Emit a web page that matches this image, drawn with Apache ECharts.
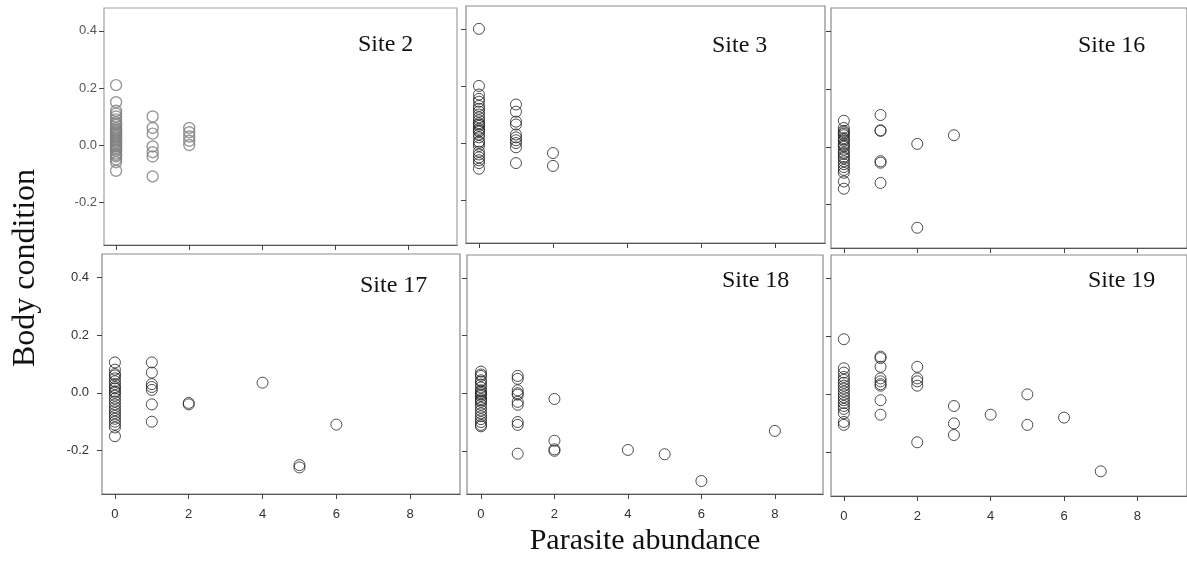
<!DOCTYPE html>
<html>
<head>
<meta charset="utf-8">
<script src="https://cdn.jsdelivr.net/npm/echarts@6/dist/echarts.min.js"></script>
<style>
    html, body { margin: 0; padding: 0; background: #fff; }
    #chart { width: 1187px; height: 566px; }
</style>
</head>
<body>
<div id="chart"></div>
<script>
// site names
var siteNames = ["Site 2", "Site 3", "Site 16", "Site 17", "Site 18", "Site 19"];

// parasite abundance levels and body condition values per site
var site2Abund = [0, 1, 2];
var site2Cond = [
    [0.21, 0.15, 0.12, 0.11, 0.10, 0.09, 0.08, 0.075, 0.07, 0.06, 0.055, 0.05, 0.045, 0.04, 0.035, 0.03, 0.025, 0.02, 0.015, 0.01, 0.005, 0.0, -0.005, -0.01, -0.015, -0.02, -0.03, -0.035, -0.04, -0.05, -0.06, -0.09],
    [0.10, 0.06, 0.04, -0.005, -0.025, -0.04, -0.11],
    [0.06, 0.045, 0.03, 0.015, 0.0]
];

var site3Abund = [0, 1, 2];
var site3Cond = [
    [0.40, 0.20, 0.17, 0.155, 0.145, 0.13, 0.12, 0.11, 0.10, 0.09, 0.08, 0.07, 0.065, 0.06, 0.05, 0.045, 0.04, 0.03, 0.02, 0.005, 0.0, -0.01, -0.03, -0.04, -0.05, -0.06, -0.07, -0.09],
    [0.135, 0.11, 0.075, 0.065, 0.03, 0.02, 0.01, 0.0, -0.015, -0.07],
    [-0.035, -0.08]
];

var site16Abund = [0, 1, 2, 3];
var site16Cond = [
    [0.09, 0.065, 0.055, 0.05, 0.045, 0.04, 0.03, 0.025, 0.02, 0.01, 0.005, 0.0, -0.01, -0.02, -0.025, -0.035, -0.04, -0.05, -0.06, -0.07, -0.08, -0.09, -0.12, -0.145],
    [0.11, 0.055, 0.057, -0.05, -0.055, -0.125],
    [0.01, -0.28],
    [0.04]
];

var site17Abund = [0, 1, 2, 4, 5, 6];
var site17Cond = [
    [0.105, 0.08, 0.065, 0.06, 0.05, 0.04, 0.03, 0.02, 0.015, 0.005, 0.0, -0.01, -0.02, -0.03, -0.04, -0.05, -0.06, -0.07, -0.08, -0.09, -0.1, -0.11, -0.12, -0.15],
    [0.105, 0.07, 0.03, 0.02, 0.01, -0.04, -0.1],
    [-0.035, -0.04],
    [0.035],
    [-0.25, -0.258],
    [-0.11]
];

var site18Abund = [0, 1, 2, 4, 5, 6, 8];
var site18Cond = [
    [0.075, 0.065, 0.06, 0.045, 0.04, 0.03, 0.02, 0.01, 0.005, 0.0, -0.005, -0.01, -0.02, -0.025, -0.03, -0.04, -0.05, -0.06, -0.07, -0.08, -0.09, -0.1, -0.11, -0.115],
    [0.06, 0.05, 0.01, 0.0, -0.005, -0.03, -0.04, -0.1, -0.11, -0.21],
    [-0.02, -0.165, -0.195, -0.2],
    [-0.197],
    [-0.212],
    [-0.305],
    [-0.131]
];

var site19Abund = [0, 1, 2, 3, 4, 5, 6, 7];
var site19Cond = [
    [0.19, 0.09, 0.075, 0.06, 0.05, 0.04, 0.03, 0.02, 0.01, 0.0, -0.01, -0.02, -0.03, -0.04, -0.05, -0.065, -0.095, -0.105],
    [0.13, 0.125, 0.095, 0.055, 0.045, 0.035, 0.03, -0.02, -0.07],
    [0.095, 0.055, 0.045, 0.03, -0.165],
    [-0.04, -0.1, -0.14],
    [-0.07],
    [0.0, -0.105],
    [-0.08],
    [-0.265]
];

// tick labels
var xTicks = [0, 2, 4, 6, 8];
var yTicks = [-0.2, 0.0, 0.2, 0.4];

var siteAbund = [site2Abund, site3Abund, site16Abund, site17Abund, site18Abund, site19Abund];
var siteCond = [site2Cond, site3Cond, site16Cond, site17Cond, site18Cond, site19Cond];

// panel boxes (px) and axis ranges
var panels = [
    {left: 104, top: 8, width: 353, height: 237, xMin: -0.33, xMax: 9.32, yLab: true, yMargin: 7, xLab: false, color: '#808080', box: '#a0a0a0', label: {x: 358, y: 46}},
    {left: 466, top: 6, width: 359, height: 237, xMin: -0.35, xMax: 9.35, yLab: false, yMargin: 8, xLab: false, color: '#222', box: '#8a8a8a', label: {x: 712, y: 47}},
    {left: 831, top: 8, width: 359, height: 240, xMin: -0.35, xMax: 9.35, yLab: false, yMargin: 8, xLab: false, color: '#222', box: '#8a8a8a', label: {x: 1078, y: 47}},
    {left: 102, top: 254, width: 358, height: 240, xMin: -0.35, xMax: 9.35, yLab: true, yMargin: 13, xLab: true, color: '#222', box: '#8a8a8a', label: {x: 360, y: 287}},
    {left: 467, top: 255, width: 356, height: 239, xMin: -0.38, xMax: 9.31, yLab: false, yMargin: 8, xLab: true, color: '#222', box: '#8a8a8a', label: {x: 722, y: 282}},
    {left: 831, top: 255, width: 359, height: 241, xMin: -0.35, xMax: 9.35, yLab: false, yMargin: 8, xLab: true, color: '#222', box: '#8a8a8a', label: {x: 1088, y: 282}}
];
var yMin = -0.35, yMax = 0.48;

function buildPoints(abund, cond) {
    var pts = [];
    abund.forEach(function (a, i) {
        cond[i].forEach(function (v) {
            pts.push([a, v]);
        });
    });
    return pts;
}

var grids = [], xAxes = [], yAxes = [], series = [], graphics = [];

panels.forEach(function (p, i) {
    grids.push({
        left: p.left, top: p.top, width: p.width, height: p.height,
        show: true, borderColor: p.box, borderWidth: 1.2, backgroundColor: 'transparent'
    });
    xAxes.push({
        type: 'value', gridIndex: i, min: p.xMin, max: p.xMax,
        splitLine: {show: false},
        axisLine: {show: true, onZero: false, lineStyle: {color: '#555', width: 1.2}},
        axisTick: {show: true, customValues: xTicks, length: 5, lineStyle: {color: '#444'}},
        axisLabel: {
            show: p.xLab, customValues: xTicks, margin: 14,
            fontFamily: 'Liberation Sans', fontSize: 13, color: '#333'
        }
    });
    yAxes.push({
        type: 'value', gridIndex: i, min: yMin, max: yMax,
        splitLine: {show: false},
        axisLine: {show: false, onZero: false},
        axisTick: {show: true, customValues: yTicks, length: 5, lineStyle: {color: '#444'}},
        axisLabel: {
            show: p.yLab, customValues: yTicks, margin: p.yMargin,
            fontFamily: 'Liberation Sans', fontSize: 13, color: i === 0 ? '#555' : '#333',
            formatter: function (v) { return v.toFixed(1); }
        }
    });
    series.push({
        type: 'scatter', xAxisIndex: i, yAxisIndex: i,
        data: buildPoints(siteAbund[i], siteCond[i]),
        symbol: 'circle', symbolSize: 11,
        itemStyle: {color: 'rgba(0,0,0,0)', borderColor: p.color, borderWidth: i === 0 ? 1.4 : 1},
        emphasis: {disabled: true},
        animation: false
    });
    graphics.push({
        type: 'text', left: p.label.x, top: p.label.y - 13,
        style: {text: siteNames[i], font: '24px "Liberation Serif"', fill: '#111'}
    });
});

// axis titles
graphics.push({
    type: 'text', x: 645, y: 541,
    style: {text: 'Parasite abundance', font: '30px "Liberation Serif"', fill: '#111', align: 'center', verticalAlign: 'middle'}
});
graphics.push({
    type: 'text', x: 26, y: 268, rotation: Math.PI / 2,
    style: {text: 'Body condition', font: '32px "Liberation Serif"', fill: '#111', align: 'center', verticalAlign: 'middle'}
});

var chart = echarts.init(document.getElementById('chart'));
chart.setOption({
    animation: false,
    grid: grids,
    xAxis: xAxes,
    yAxis: yAxes,
    series: series,
    graphic: graphics
});
</script>
</body>
</html>
